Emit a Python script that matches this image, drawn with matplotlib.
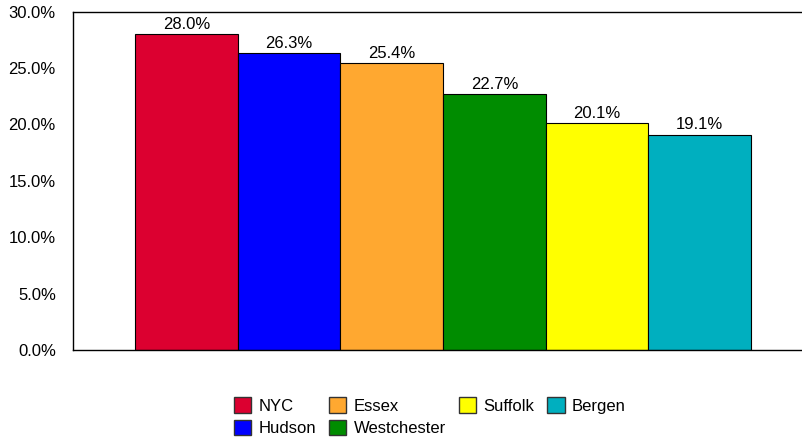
import matplotlib.pyplot as plt
from matplotlib.patches import Patch
from matplotlib.ticker import PercentFormatter

plt.rcParams['font.family'] = ['Liberation Sans', 'DejaVu Sans']

# county shares, in percent
counties = ['NYC', 'Hudson', 'Essex', 'Westchester', 'Suffolk', 'Bergen']
shares = [28.0, 26.3, 25.4, 22.7, 20.1, 19.1]
colors = ['#DC0030', '#0000FF', '#FFA830', '#008C00', '#FFFF00', '#00AFBF']
yticks = [0, 5, 10, 15, 20, 25, 30]

fig = plt.figure(figsize=(8.02, 4.38), dpi=100)
ax = fig.add_axes([0.0904, 0.2009, 0.9096, 0.7728])

x = list(range(len(counties)))
bars = ax.bar(x, shares, width=1.0, color=colors, edgecolor='black', linewidth=0.8)
for b, v in zip(bars, shares):
    ax.annotate('%.1f%%' % v, (b.get_x() + b.get_width() / 2, v),
                xytext=(0, 1.5), textcoords='offset points',
                ha='center', va='bottom', fontsize=12)

ax.set_xlim(-1.109, 5.997)
ax.set_ylim(0, 30)
ax.set_yticks(yticks)
ax.yaxis.set_major_formatter(PercentFormatter(decimals=1))
ax.tick_params(axis='y', length=0, pad=12, labelsize=12)
ax.set_xticks([])
ax.spines['right'].set_visible(False)
for s in ['left', 'top', 'bottom']:
    ax.spines[s].set_linewidth(1.0)

handles = [Patch(facecolor=c, edgecolor='#333333', label=n) for c, n in zip(colors, counties)]
fig.legend(handles=handles, ncol=4, loc='upper center', bbox_to_anchor=(0.536, 0.112),
           frameon=False, fontsize=12, handlelength=1.05, handleheight=1.05,
           handletextpad=0.45, columnspacing=0.75, labelspacing=0.35, borderpad=0)

fig.savefig('out.png', dpi=100)
